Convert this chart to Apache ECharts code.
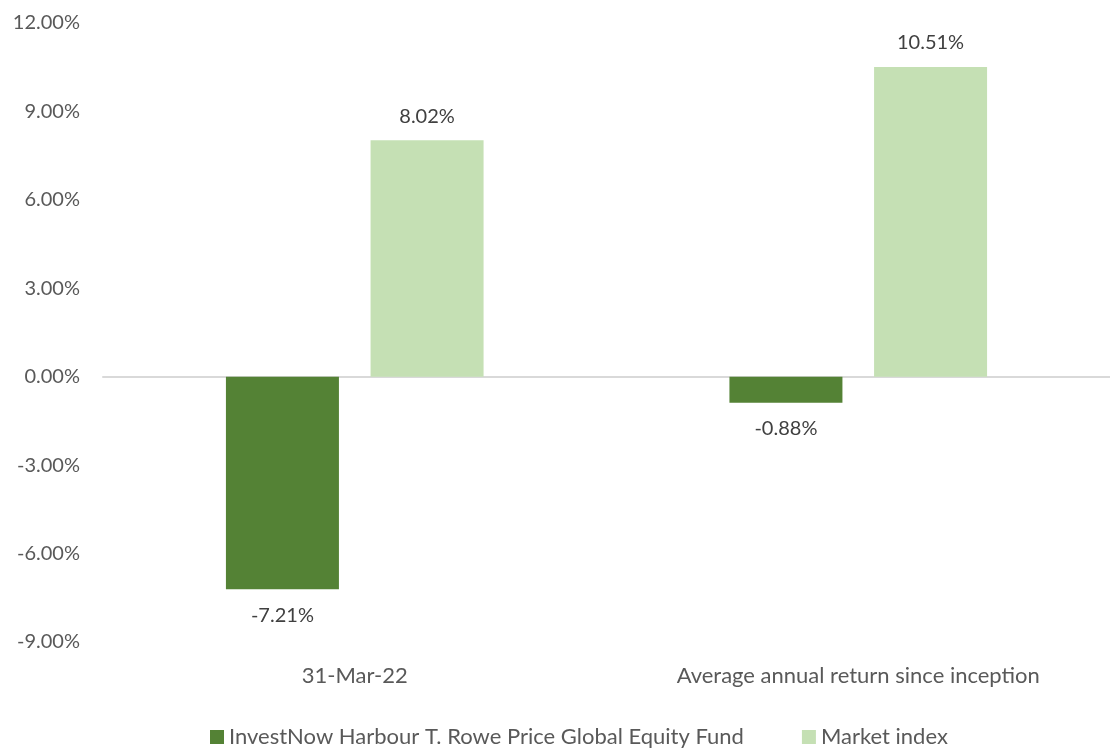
<!DOCTYPE html>
<html>
<head>
    <meta charset="utf-8" />
    <title>Returns</title>
    <script src="https://cdn.jsdelivr.net/npm/echarts@6/dist/echarts.min.js"></script>
    <style>
        html, body { margin: 0; padding: 0; background: #fff; }
        #main { width: 1110px; height: 754px; }
    </style>
</head>
<body>
    <div id="main"></div>
    <script type="text/javascript">
        // chart data
        var categories = ['31-Mar-22', 'Average annual return since inception'];
        var fundName = 'InvestNow Harbour T. Rowe Price Global Equity Fund';
        var indexName = 'Market index';
        var fundValues = [-7.21, -0.88];
        var indexValues = [8.02, 10.51];

        var font = 'Lato, "Liberation Sans", sans-serif';
        var myChart = echarts.init(document.getElementById('main'));

        function pct(p) { return p.value.toFixed(2) + '%'; }

        myChart.setOption({
            animation: false,
            textStyle: { fontFamily: font },
            grid: { left: 103, right: 0, top: 23, bottom: 112, containLabel: false },
            legend: {
                bottom: 1,
                left: 205,
                itemWidth: 14,
                itemHeight: 14,
                itemGap: 58,
                icon: 'rect',
                textStyle: { color: '#595959', fontSize: 22, fontFamily: font },
                data: [fundName, indexName]
            },
            xAxis: [
                {
                    type: 'category',
                    data: categories,
                    position: 'bottom',
                    axisLine: { show: false, onZero: false },
                    axisTick: { show: false },
                    axisLabel: { color: '#595959', fontSize: 22, margin: 23 }
                },
                {
                    type: 'category',
                    data: categories,
                    position: 'bottom',
                    axisLine: { show: true, onZero: true, lineStyle: { color: '#d9d9d9', width: 2 } },
                    axisTick: { show: false },
                    axisLabel: { show: false }
                }
            ],
            yAxis: {
                type: 'value',
                min: -9,
                max: 12,
                interval: 3,
                axisLine: { show: false },
                axisTick: { show: false },
                splitLine: { show: false },
                axisLabel: {
                    color: '#595959',
                    fontSize: 20,
                    margin: 23,
                    formatter: function (v) { return v.toFixed(2) + '%'; }
                }
            },
            series: [
                {
                    name: fundName,
                    type: 'bar',
                    xAxisIndex: 0,
                    data: fundValues,
                    barWidth: 113,
                    barGap: '28%',
                    itemStyle: { color: '#548235' },
                    label: { show: true, position: 'bottom', distance: 16, color: '#404040', fontSize: 20, formatter: pct }
                },
                {
                    name: indexName,
                    type: 'bar',
                    xAxisIndex: 0,
                    data: indexValues,
                    barWidth: 113,
                    barGap: '28%',
                    itemStyle: { color: '#C5E0B4' },
                    label: { show: true, position: 'top', distance: 14, color: '#404040', fontSize: 20, formatter: pct }
                }
            ]
        });
    </script>
</body>
</html>
